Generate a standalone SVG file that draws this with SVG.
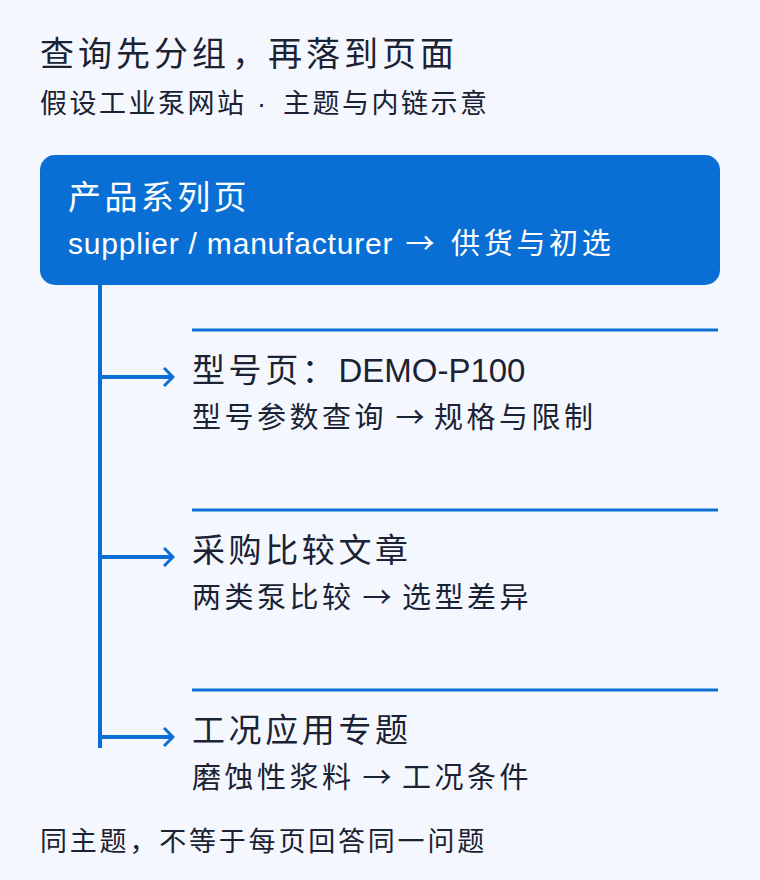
<svg xmlns="http://www.w3.org/2000/svg" width="760" height="880" viewBox="0 0 760 880">
<style>
text{font-family:"Noto Sans CJK SC","Noto Sans CJK TC",sans-serif;fill:#1a2233;}
.lat{font-family:"Liberation Sans","Noto Sans",sans-serif;letter-spacing:0;}
.arw{font-family:"Noto Sans CJK SC",sans-serif;letter-spacing:0;text-anchor:middle;}
.t1{font-size:34px;letter-spacing:4px;}
.t2{font-size:27px;letter-spacing:2.5px;}
.ft{font-size:27px;letter-spacing:2.8px;}
.h{font-size:33px;letter-spacing:3.6px;}
.s{font-size:29px;letter-spacing:3.5px;}
.w1{font-size:33px;letter-spacing:3.4px;fill:#ffffff;}
.w2{font-size:29px;letter-spacing:3.7px;fill:#ffffff;}
.w2 .lat{font-size:30px;letter-spacing:0.8px;}
.rule{stroke:#0a6fd4;stroke-width:3;fill:none;}
.conn{stroke:#0a6fd4;stroke-width:4;fill:none;}
</style>
<defs>
<marker id="ah" viewBox="0 0 12 20" refX="10" refY="10" markerWidth="3" markerHeight="5" orient="auto" markerUnits="strokeWidth">
<path d="M1,1 L10,10 L1,19" fill="none" stroke="#0a6fd4" stroke-width="3"/>
</marker>
</defs>
<rect width="760" height="880" fill="#f4f8fe"/>
<g id="header">
<text class="t1" y="66"><tspan x="40">查询先分组</tspan><tspan x="232" style="letter-spacing:0">，</tspan><tspan x="268">再落到页面</tspan></text>
<text class="t2" y="113"><tspan x="40">假设工业泵网站</tspan><tspan class="lat" x="257">·</tspan><tspan x="283">主题与内链示意</tspan></text>
</g>
<g id="connectors">
<path class="conn" d="M100,285 V748"/>
<path class="conn" d="M100,377 H173" marker-end="url(#ah)"/>
<path class="conn" d="M100,557 H173" marker-end="url(#ah)"/>
<path class="conn" d="M100,737 H173" marker-end="url(#ah)"/>
</g>
<g id="root">
<rect x="40" y="155" width="680" height="130" rx="15" fill="#0a6fd4"/>
<text class="w1" x="68" y="209">产品系列页</text>
<text class="w2" y="254"><tspan class="lat" x="68">supplier / manufacturer</tspan><tspan class="arw" x="420">→</tspan><tspan x="451">供货与初选</tspan></text>
</g>
<g id="model">
<line class="rule" x1="192" y1="330" x2="718" y2="330"/>
<text class="h" y="382"><tspan x="192">型号页：</tspan><tspan class="lat">DEMO-P100</tspan></text>
<text class="s" y="428"><tspan x="192">型号参数查询</tspan><tspan class="arw" x="410">→</tspan><tspan x="434">规格与限制</tspan></text>
</g>
<g id="compare">
<line class="rule" x1="192" y1="510" x2="718" y2="510"/>
<text class="h" x="192" y="562">采购比较文章</text>
<text class="s" y="608"><tspan x="192">两类泵比较</tspan><tspan class="arw" x="377">→</tspan><tspan x="402">选型差异</tspan></text>
</g>
<g id="application">
<line class="rule" x1="192" y1="690" x2="718" y2="690"/>
<text class="h" x="192" y="742">工况应用专题</text>
<text class="s" y="788"><tspan x="192">磨蚀性浆料</tspan><tspan class="arw" x="377">→</tspan><tspan x="402">工况条件</tspan></text>
</g>
<g id="footer">
<text class="ft" x="40" y="851">同主题，不等于每页回答同一问题</text>
</g>
</svg>
